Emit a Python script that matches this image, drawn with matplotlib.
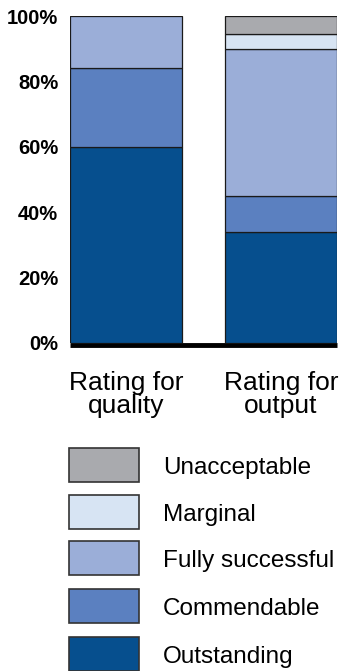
import matplotlib
matplotlib.use('Agg')
import matplotlib.pyplot as plt
from matplotlib.patches import Rectangle

# rating shares (percent of staff) for each measure, bottom category first
measures = ['Rating for\nquality', 'Rating for\noutput']
categories = ['Outstanding', 'Commendable', 'Fully successful', 'Marginal', 'Unacceptable']
quality = [60, 24, 16, 0, 0]
output = [34, 11, 45, 4.5, 5.5]
colors = ['#064f8e', '#5b80c0', '#9baed8', '#d7e4f3', '#a9aaae']
yticks = [0, 20, 40, 60, 80, 100]

plt.rcParams['font.family'] = ['Liberation Sans', 'DejaVu Sans']

fig = plt.figure(figsize=(3.44, 6.71), dpi=100)
ax = fig.add_axes([70/344, 1 - 343/671, 267/344, 327/671])

series = [quality, output]
for i, vals in enumerate(series):
	bottom = 0
	for v, c in zip(vals, colors):
		if v > 0:
			ax.bar(i, v, bottom=bottom, width=0.72, color=c, edgecolor='#1a1a1a', linewidth=0.9)
		bottom += v

ax.set_xlim(-0.36, 1.36)
ax.set_ylim(0, 100)
for s in ax.spines.values():
	s.set_visible(False)
# heavy baseline under the bars
ax.plot([-0.36, 1.36], [-0.6, -0.6], color='black', lw=3.5, clip_on=False, solid_capstyle='butt')

ax.set_yticks(yticks)
ax.set_yticklabels(['%d%%' % t for t in yticks], fontweight='bold', fontsize=14.5)
ax.tick_params(axis='y', length=0, pad=8.5)
for lab in ax.get_yticklabels():
	lab.set_va('center_baseline')
ax.set_xticks(range(len(measures)))
ax.set_xticklabels(measures, fontsize=19, linespacing=0.95)
ax.tick_params(axis='x', length=0, pad=20)

# legend drawn as boxes plus labels, top entry first
lax = fig.add_axes([0, 0, 1, 1 - 440/671])
lax.set_xlim(0, 344)
lax.set_ylim(671, 440)
lax.axis('off')
tops = [448, 495, 541, 589, 637]
for top, name, c in zip(tops, categories[::-1], colors[::-1]):
	lax.add_patch(Rectangle((69, top), 70, 33.5, facecolor=c, edgecolor='#333333', lw=1.2, clip_on=False))
	lax.text(163, top + 20, name, fontsize=17.5, va='center', ha='left')

fig.savefig('out.png', dpi=100)
